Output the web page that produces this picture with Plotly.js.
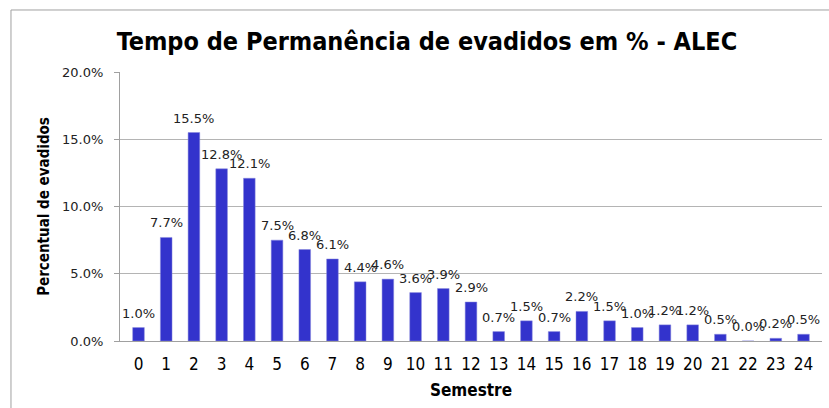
<!DOCTYPE html>
<html>
<head>
<meta charset="utf-8">
<script src="https://cdn.plot.ly/plotly-3.0.1.min.js"></script>
<style>html,body{margin:0;padding:0;background:#fff;}#chart{width:829px;height:408px;}</style>
</head>
<body>
<div id="chart"></div>
<script>
var semestres = ['0','1','2','3','4','5','6','7','8','9','10','11','12','13','14','15','16','17','18','19','20','21','22','23','24'];
var percentual = [0.010,0.077,0.155,0.128,0.121,0.075,0.068,0.061,0.044,0.046,0.036,0.039,0.029,0.007,0.015,0.007,0.022,0.015,0.010,0.012,0.012,0.005,0.000,0.002,0.005];
var yTicks = [0,0.05,0.10,0.15,0.20];

var narrow = '"Liberation Sans Narrow", "DejaVu Sans Condensed", sans-serif';
var trace = {
  type: 'bar',
  x: semestres,
  y: percentual,
  marker: {color: '#3333cc', line: {color: '#8888dd', width: 0.5}},
  width: 0.42,
  hoverinfo: 'skip'
};
var labels = semestres.map(function (s, i) {
  return {x: s, y: percentual[i], xref: 'x', yref: 'y', text: (percentual[i] * 100).toFixed(1) + '%',
          showarrow: false, yanchor: 'bottom', xanchor: 'center', yshift: 5,
          font: {family: '"DejaVu Sans", sans-serif', size: 13, color: '#222'}};
});
var layout = {
  width: 829, height: 408,
  margin: {l: 120, r: 7, t: 72, b: 67},
  paper_bgcolor: '#fff', plot_bgcolor: '#fff',
  showlegend: false,
  title: {text: '<b>Tempo de Permanência de evadidos em % - ALEC</b>', x: 0.515, xanchor: 'center', y: 0.9, yanchor: 'middle',
          font: {family: narrow, size: 25, color: '#000'}},
  xaxis: {type: 'category', automargin: false, showline: true, linecolor: '#a0a0a0', linewidth: 1, ticks: '', showgrid: false,
          ticklabelstandoff: 8,
          tickfont: {family: narrow, size: 17, color: '#000'},
          title: {text: '<b>Semestre</b>', font: {family: narrow, size: 17, color: '#000'}, standoff: 10}},
  yaxis: {range: [0, 0.2], automargin: false, tickvals: yTicks, tickformat: '.1%', showline: true, linecolor: '#a0a0a0', linewidth: 1,
          ticks: 'outside', ticklen: 5, tickcolor: '#a0a0a0', showgrid: true, gridcolor: '#b4b4b4', gridwidth: 1, zeroline: false,
          ticklabelstandoff: 8,
          tickfont: {family: '"DejaVu Sans", sans-serif', size: 13, color: '#222'},
          title: {text: '<b>Percentual de evadidos</b>', font: {family: narrow, size: 15, color: '#000'}, standoff: 8}},
  annotations: labels,
  shapes: [
    {type: 'line', xref: 'paper', yref: 'paper', x0: -0.1553, x1: 1.02, y0: 1.2305, y1: 1.2305, line: {color: '#a0a0a0', width: 1}},
    {type: 'line', xref: 'paper', yref: 'paper', x0: -0.1553, x1: -0.1553, y0: 1.2305, y1: -0.26, line: {color: '#a0a0a0', width: 1}}
  ]
};
Plotly.newPlot('chart', [trace], layout, {displayModeBar: false, staticPlot: true});
</script>
</body>
</html>
